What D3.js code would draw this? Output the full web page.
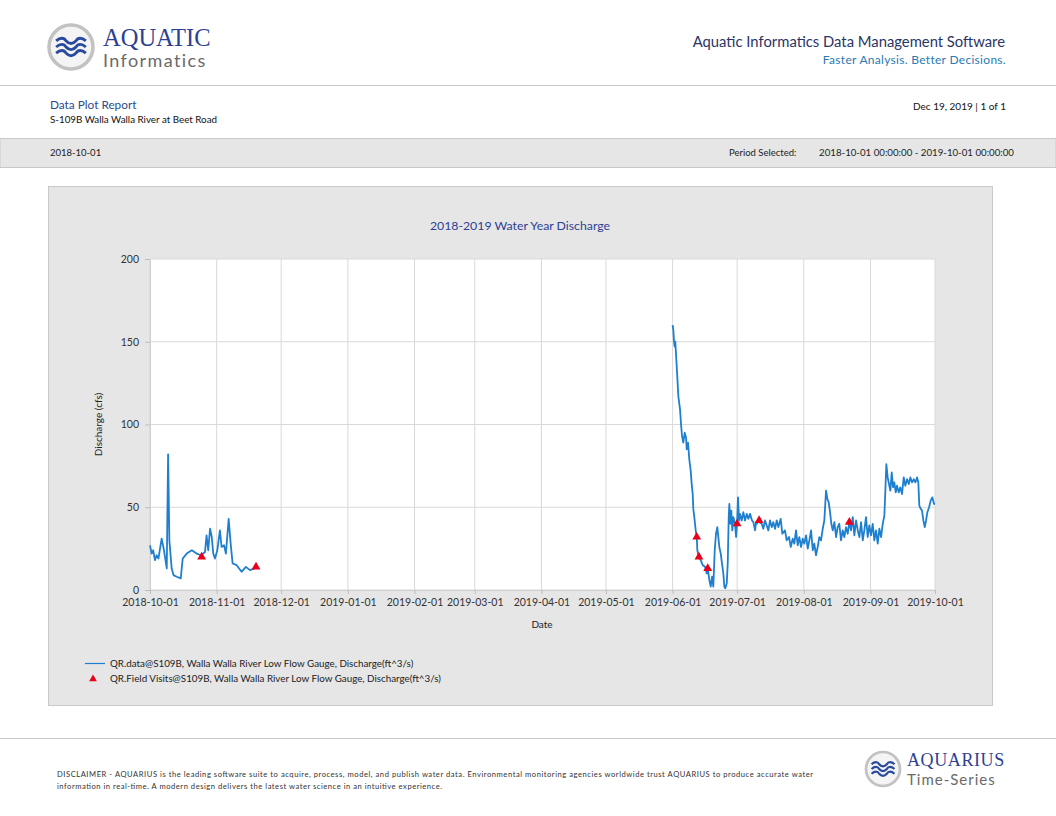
<!DOCTYPE html>
<html>
<head>
<meta charset="utf-8">
<script src="https://cdn.jsdelivr.net/npm/d3@7/dist/d3.min.js"></script>
<style>
  html, body { margin: 0; padding: 0; background: #ffffff; }
  svg { display: block; }
  text { font-family: Lato, "Open Sans", "Noto Sans", sans-serif; }
</style>
</head>
<body>
<svg id="page" width="1056" height="816"></svg>
<script>
// ---------------- data ----------------
const chartTitle = "2018-2019 Water Year Discharge";
const yAxisTitle = "Discharge (cfs)";
const xAxisTitle = "Date";
const yTicks = [0, 50, 100, 150, 200];
const xTickDates = ["2018-10-01","2018-11-01","2018-12-01","2019-01-01","2019-02-01","2019-03-01",
  "2019-04-01","2019-05-01","2019-06-01","2019-07-01","2019-08-01","2019-09-01","2019-10-01"];
const seriesNames = [
  "QR.data@S109B, Walla Walla River Low Flow Gauge, Discharge(ft^3/s)",
  "QR.Field Visits@S109B, Walla Walla River Low Flow Gauge, Discharge(ft^3/s)"
];

// continuous record (null = gap in record)
const flowTimes = [
  "2018-10-01 00:00","2018-10-01 19:00","2018-10-02 12:00","2018-10-03 07:00","2018-10-04 02:00",
  "2018-10-04 22:00","2018-10-06 10:00","2018-10-07 12:00","2018-10-08 19:00","2018-10-09 10:00",
  "2018-10-10 00:00","2018-10-11 02:00","2018-10-11 22:00","2018-10-13 10:00","2018-10-15 07:00",
  "2018-10-16 05:00","2018-10-18 02:00","2018-10-20 10:00","2018-10-22 17:00","2018-10-24 17:00",
  "2018-10-26 14:00","2018-10-27 07:00","2018-10-28 02:00","2018-10-28 22:00","2018-10-29 17:00",
  "2018-10-30 10:00","2018-10-31 05:00","2018-11-01 07:00","2018-11-02 12:00","2018-11-03 07:00",
  "2018-11-04 10:00","2018-11-05 07:00","2018-11-06 14:00","2018-11-07 12:00","2018-11-08 10:00",
  "2018-11-10 07:00","2018-11-12 14:00","2018-11-14 14:00","2018-11-16 12:00","2018-11-18 10:00",
  "2018-11-18 19:00",
  "2019-01-01 00:00",
  "2019-06-01 00:00","2019-06-01 08:00","2019-06-01 16:00","2019-06-01 23:00","2019-06-02 06:00",
  "2019-06-02 22:00","2019-06-03 16:00","2019-06-04 11:00","2019-06-04 22:00","2019-06-05 09:00",
  "2019-06-05 23:00","2019-06-06 15:00","2019-06-07 06:00","2019-06-07 13:00","2019-06-08 04:00",
  "2019-06-08 18:00","2019-06-09 10:00","2019-06-09 21:00","2019-06-10 08:00","2019-06-10 15:00",
  "2019-06-11 02:00","2019-06-11 18:00","2019-06-12 05:00","2019-06-12 12:00","2019-06-13 03:00",
  "2019-06-14 02:00","2019-06-15 00:00","2019-06-16 02:00","2019-06-16 21:00","2019-06-17 08:00",
  "2019-06-18 02:00","2019-06-18 17:00","2019-06-19 08:00","2019-06-19 22:00","2019-06-20 14:00",
  "2019-06-21 04:00","2019-06-21 19:00","2019-06-22 06:00","2019-06-22 17:00","2019-06-23 09:00",
  "2019-06-23 23:00","2019-06-24 14:00","2019-06-25 01:00","2019-06-25 12:00","2019-06-26 04:00",
  "2019-06-26 15:00","2019-06-27 02:00","2019-06-27 09:00","2019-06-27 20:00","2019-06-28 07:00",
  "2019-06-28 18:00","2019-06-29 06:00","2019-06-30 00:00","2019-06-30 12:00","2019-06-30 23:00",
  "2019-07-01 10:00","2019-07-01 21:00","2019-07-02 08:00","2019-07-03 03:00","2019-07-03 21:00",
  "2019-07-04 16:00","2019-07-05 11:00","2019-07-06 05:00","2019-07-07 00:00","2019-07-07 22:00",
  "2019-07-08 13:00","2019-07-09 08:00","2019-07-09 19:00","2019-07-10 03:00","2019-07-10 20:00",
  "2019-07-11 08:00","2019-07-12 10:00","2019-07-13 04:00","2019-07-13 23:00","2019-07-14 18:00",
  "2019-07-15 12:00","2019-07-16 07:00","2019-07-17 02:00","2019-07-17 20:00","2019-07-18 15:00",
  "2019-07-19 10:00","2019-07-20 04:00","2019-07-21 06:00","2019-07-22 00:00","2019-07-23 06:00",
  "2019-07-24 01:00","2019-07-25 03:00","2019-07-25 22:00","2019-07-26 20:00","2019-07-27 14:00",
  "2019-07-28 09:00","2019-07-29 04:00","2019-07-29 22:00","2019-07-30 17:00","2019-07-31 12:00",
  "2019-08-01 06:00","2019-08-02 01:00","2019-08-02 20:00","2019-08-03 14:00","2019-08-04 09:00",
  "2019-08-05 04:00","2019-08-05 21:00","2019-08-06 16:00","2019-08-07 11:00","2019-08-08 05:00",
  "2019-08-09 00:00","2019-08-09 19:00","2019-08-10 13:00","2019-08-11 08:00","2019-08-11 23:00",
  "2019-08-12 14:00","2019-08-13 05:00","2019-08-13 19:00","2019-08-14 11:00","2019-08-15 05:00",
  "2019-08-16 00:00","2019-08-16 18:00","2019-08-17 12:00","2019-08-18 07:00","2019-08-19 02:00",
  "2019-08-19 20:00","2019-08-20 15:00","2019-08-21 10:00","2019-08-22 04:00","2019-08-22 23:00",
  "2019-08-23 18:00","2019-08-24 12:00","2019-08-25 07:00","2019-08-26 02:00","2019-08-26 20:00",
  "2019-08-27 15:00","2019-08-28 10:00","2019-08-29 03:00","2019-08-29 22:00","2019-08-30 17:00",
  "2019-08-31 11:00","2019-09-01 06:00","2019-09-02 01:00","2019-09-02 19:00","2019-09-03 14:00",
  "2019-09-04 09:00","2019-09-05 03:00","2019-09-05 22:00","2019-09-06 17:00","2019-09-07 11:00",
  "2019-09-07 22:00","2019-09-08 09:00","2019-09-09 00:00","2019-09-09 15:00","2019-09-10 06:00",
  "2019-09-10 21:00","2019-09-11 12:00","2019-09-12 02:00","2019-09-12 18:00","2019-09-13 08:00",
  "2019-09-14 03:00","2019-09-14 21:00","2019-09-15 16:00","2019-09-16 11:00","2019-09-17 05:00",
  "2019-09-18 00:00","2019-09-18 19:00","2019-09-19 13:00","2019-09-20 08:00","2019-09-21 03:00",
  "2019-09-21 21:00","2019-09-22 16:00","2019-09-23 06:00","2019-09-23 17:00","2019-09-24 09:00",
  "2019-09-24 23:00","2019-09-25 14:00","2019-09-26 06:00","2019-09-26 20:00","2019-09-27 11:00",
  "2019-09-28 06:00","2019-09-29 00:00","2019-09-29 18:00","2019-09-30 13:00","2019-10-01 00:00"
];
const flowValues = [
  27,22,24,18,21,
  19,31,24,13,82,
  30,13,9,8,7,
  19,22,24,22,21,
  23,33,24,37,32,
  22,19,24,36,26,
  27,22,43,28,16,
  15,11,14,12,13,
  13,
  null,
  160,157,150,147,150,
  135,117,109,100,93,
  89,95,92,85,89,
  79,72,64,58,49,
  44,36,32,24,20,
  18,15,14,10,13,
  6,2,8,2,24,
  34,38,32,26,22,
  16,10,2,1,4,
  16,44,52,40,48,
  36,44,40,32,40,
  56,42,46,42,47,
  42,46,43,46,42,
  41,36,41,40,42,
  41,40,37,42,39,
  36,42,38,41,37,
  42,38,43,34,36,
  30,32,26,31,28,
  36,27,32,26,31,
  28,33,25,30,36,
  24,28,21,26,32,
  30,37,42,60,55,
  53,47,40,36,41,
  32,38,40,30,36,
  32,38,34,41,36,
  44,33,42,36,32,
  41,30,36,44,32,
  39,33,40,30,36,
  28,37,32,40,45,
  60,76,68,64,60,
  71,62,65,59,63,
  59,62,58,68,63,
  67,64,68,65,67,
  65,68,65,51,49,
  48,42,38,42,47,
  50,54,56,52,52
];

// field visit measurements
const visitTimes = ["2018-10-25 00:00","2018-11-19 07:00","2019-06-12 05:00","2019-06-13 06:00",
  "2019-06-17 08:00","2019-06-30 23:00","2019-07-11 05:00","2019-08-22 04:00"];
const visitValues = [20, 14, 32, 20, 13, 40, 42, 41];

// ---------------- drawing ----------------
const parseT = d3.timeParse("%Y-%m-%d %H:%M");
const parseD = d3.timeParse("%Y-%m-%d");
const flow = flowTimes.map((t, i) => ({ t: parseT(t), v: flowValues[i] }));
const visits = visitTimes.map((t, i) => ({ t: parseT(t), v: visitValues[i] }));
const xTicks = xTickDates.map(parseD);

const svg = d3.select("#page");
const navy = "#2b3566";

// ---- header ----
function drawLogo(g, r) {
  g.append("circle").attr("r", r).attr("fill", "#f4f4f4").attr("stroke", "#c2c2c2").attr("stroke-width", r * 0.16);
  const w = r * 0.9;
  [-0.28, 0, 0.28].forEach(dy => {
    const yy = dy * r;
    const p = d3.path();
    p.moveTo(-w * 0.75, yy);
    p.bezierCurveTo(-w * 0.55, yy - r * 0.16, -w * 0.35, yy - r * 0.16, -w * 0.25, yy);
    p.bezierCurveTo(-w * 0.1, yy + r * 0.16, w * 0.1, yy + r * 0.16, w * 0.25, yy);
    p.bezierCurveTo(w * 0.35, yy - r * 0.16, w * 0.55, yy - r * 0.16, w * 0.75, yy);
    g.append("path").attr("d", p.toString()).attr("fill", "none")
      .attr("stroke", "#2a4a9e").attr("stroke-width", r * 0.13);
  });
}
drawLogo(svg.append("g").attr("transform", "translate(71,47)"), 22);
svg.append("text").attr("x", 103).attr("y", 46).text("AQUATIC")
  .style("font-family", "'Liberation Serif', 'DejaVu Serif', serif").attr("font-size", 24.5).attr("fill", "#2e3f93");
svg.append("text").attr("x", 103).attr("y", 67).text("Informatics")
  .attr("font-size", 18).attr("fill", "#6a6a6a").attr("letter-spacing", 1.4);

svg.append("text").attr("x", 1005).attr("y", 47).attr("text-anchor", "end")
  .text("Aquatic Informatics Data Management Software").attr("font-size", 14.8).attr("fill", navy);
svg.append("text").attr("x", 1006).attr("y", 64).attr("text-anchor", "end")
  .text("Faster Analysis. Better Decisions.").attr("font-size", 12).attr("fill", "#2a7ab3").attr("letter-spacing", 0.3);

svg.append("line").attr("x1", 0).attr("x2", 1056).attr("y1", 85.5).attr("y2", 85.5).attr("stroke", "#c8c8c8");

svg.append("text").attr("x", 50).attr("y", 109).text("Data Plot Report").attr("font-size", 11.8).attr("fill", "#2e4a8c");
svg.append("text").attr("x", 50).attr("y", 123).text("S-109B Walla Walla River at Beet Road").attr("font-size", 9.8).attr("fill", "#111");
svg.append("text").attr("x", 1006).attr("y", 110).attr("text-anchor", "end").text("Dec 19, 2019 | 1 of 1").attr("font-size", 10).attr("fill", "#111");

svg.append("rect").attr("x", 0).attr("y", 138.5).attr("width", 1056).attr("height", 29)
  .attr("fill", "#e6e6e6").attr("stroke", "#c8c8c8");
svg.append("text").attr("x", 50).attr("y", 156).text("2018-10-01").attr("font-size", 9.5).attr("fill", "#222");
svg.append("text").attr("x", 729).attr("y", 156).text("Period Selected:").attr("font-size", 9.5).attr("fill", "#222");
svg.append("text").attr("x", 1014).attr("y", 156).attr("text-anchor", "end")
  .text("2018-10-01 00:00:00 - 2019-10-01 00:00:00").attr("font-size", 9.7).attr("fill", "#222");

// ---- chart panel ----
svg.append("rect").attr("x", 48.5).attr("y", 186.5).attr("width", 944).attr("height", 519)
  .attr("fill", "#e6e6e6").attr("stroke", "#c9c9c9");

const plot = { left: 150, right: 935, top: 259, bottom: 590 };
const x = d3.scaleTime().domain([xTicks[0], xTicks[xTicks.length - 1]]).range([plot.left, plot.right]);
const y = d3.scaleLinear().domain([0, 200]).range([plot.bottom, plot.top]);

svg.append("text").attr("x", 520).attr("y", 230).attr("text-anchor", "middle")
  .text(chartTitle).attr("font-size", 12.3).attr("fill", "#2e3f93");

svg.append("rect").attr("x", plot.left).attr("y", plot.top).attr("width", plot.right - plot.left)
  .attr("height", plot.bottom - plot.top).attr("fill", "#ffffff");

// grid
const grid = svg.append("g");
grid.selectAll("line.v").data(xTicks).join("line")
  .attr("x1", d => x(d)).attr("x2", d => x(d)).attr("y1", plot.top).attr("y2", plot.bottom)
  .attr("stroke", "#d9d9d9").attr("stroke-width", 1);
grid.selectAll("line.h").data(yTicks).join("line")
  .attr("x1", plot.left).attr("x2", plot.right).attr("y1", d => y(d)).attr("y2", d => y(d))
  .attr("stroke", "#d9d9d9").attr("stroke-width", 1);

// axes
const yAxis = svg.append("g").attr("transform", `translate(${plot.left},0)`)
  .call(d3.axisLeft(y).tickValues(yTicks).tickSize(5).tickPadding(6));
yAxis.select(".domain").attr("stroke", "#cfcfcf");
yAxis.selectAll(".tick line").attr("stroke", "#bdbdbd");
yAxis.selectAll(".tick text").attr("font-size", 10.5).attr("fill", "#333").style("font-family", "Lato, sans-serif");

const xAxis = svg.append("g").attr("transform", `translate(0,${plot.bottom})`)
  .call(d3.axisBottom(x).tickValues(xTicks).tickFormat(d3.timeFormat("%Y-%m-%d")).tickSize(4).tickPadding(5));
xAxis.select(".domain").attr("stroke", "#cfcfcf");
xAxis.selectAll(".tick line").attr("stroke", "#bdbdbd");
xAxis.selectAll(".tick text").attr("font-size", 10.5).attr("fill", "#333").style("font-family", "Lato, sans-serif");

svg.append("text").attr("transform", `translate(102,${(plot.top + plot.bottom) / 2}) rotate(-90)`)
  .attr("text-anchor", "middle").text(yAxisTitle).attr("font-size", 10).attr("fill", "#222");
svg.append("text").attr("x", 542).attr("y", 628).attr("text-anchor", "middle")
  .text(xAxisTitle).attr("font-size", 10).attr("fill", "#222");

// series
const lineColor = "#1f7fcf";
const line = d3.line().defined(d => d.v !== null).x(d => x(d.t)).y(d => y(d.v));
svg.append("path").datum(flow).attr("d", line).attr("fill", "none")
  .attr("stroke", lineColor).attr("stroke-width", 1.8).attr("stroke-linejoin", "round");

const tri = d3.symbol().type(d3.symbolTriangle).size(34);
svg.selectAll("path.visit").data(visits).join("path").attr("class", "visit")
  .attr("d", tri).attr("transform", d => `translate(${x(d.t)},${y(d.v)})`)
  .attr("fill", "#e8001c");

// legend
const lg = svg.append("g");
lg.append("line").attr("x1", 85).attr("x2", 105).attr("y1", 663.5).attr("y2", 663.5)
  .attr("stroke", lineColor).attr("stroke-width", 1.2);
lg.append("text").attr("x", 110).attr("y", 667).text(seriesNames[0]).attr("font-size", 9.8).attr("fill", "#222");
lg.append("path").attr("d", d3.symbol().type(d3.symbolTriangle).size(26))
  .attr("transform", "translate(93,679)").attr("fill", "#e8001c");
lg.append("text").attr("x", 110).attr("y", 682).text(seriesNames[1]).attr("font-size", 9.8).attr("fill", "#222");

// ---- footer ----
svg.append("line").attr("x1", 0).attr("x2", 1056).attr("y1", 738.5).attr("y2", 738.5).attr("stroke", "#c8c8c8");
svg.append("text").attr("x", 57).attr("y", 777)
  .text("DISCLAIMER - AQUARIUS is the leading software suite to acquire, process, model, and publish water data. Environmental monitoring agencies worldwide trust AQUARIUS to produce accurate water")
  .attr("font-size", 7.6).attr("fill", "#333").attr("textLength", 756).attr("lengthAdjust", "spacing");
svg.append("text").attr("x", 57).attr("y", 789)
  .text("information in real-time. A modern design delivers the latest water science in an intuitive experience.")
  .attr("font-size", 7.6).attr("fill", "#333").attr("textLength", 385).attr("lengthAdjust", "spacing");

drawLogo(svg.append("g").attr("transform", "translate(883,769)"), 17);
svg.append("text").attr("x", 907).attr("y", 766).text("AQUARIUS")
  .style("font-family", "'Liberation Serif', 'DejaVu Serif', serif").attr("font-size", 18).attr("fill", "#2e3f93")
  .attr("letter-spacing", 0.6);
svg.append("text").attr("x", 907).attr("y", 785).text("Time-Series")
  .attr("font-size", 15).attr("fill", "#6a6a6a").attr("letter-spacing", 1.0);
</script>
</body>
</html>
